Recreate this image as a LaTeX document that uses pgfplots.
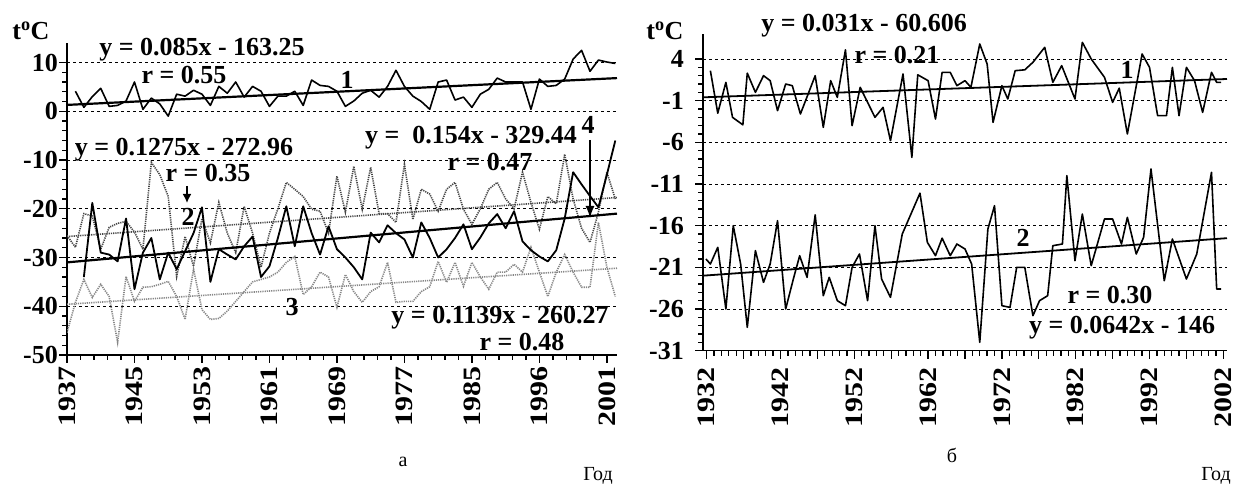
\documentclass[border=0pt]{standalone}
\usepackage{pgfplots}
\pgfplotsset{compat=1.18}
\usetikzlibrary{arrows.meta}
\usepackage{fontspec}
\setmainfont{Liberation Serif}
\newfontfamily\widefont{Liberation Serif Bold}[FakeStretch=1.2]

\definecolor{sertwo}{RGB}{70,70,70}
\definecolor{serthree}{RGB}{135,135,135}

\newcommand{\bigb}{\fontsize{26}{28}\selectfont\bfseries}

\pgfplotsset{
  panel/.style={
    scale only axis,
    axis x line=bottom, axis y line=left,
    axis line style={-, line width=1.6pt},
    tick align=outside,
    major tick length=8pt, minor tick length=5pt,
    every tick/.style={black, line width=1.3pt},
    ymajorgrids,
    major grid style={black, line width=0.7pt, dash pattern=on 3pt off 3pt},
    minor x tick num=4, minor y tick num=4,
    yticklabel style={font=\bigb, inner sep=1pt},
    xticklabel style={font=\widefont\fontsize{25}{27}\selectfont, rotate=90, anchor=east, inner sep=1pt},
  },
  blk/.style={black, line width=1.6pt, line join=round},
  trend/.style={black, line width=2.2pt},
}

\begin{document}
\begin{tikzpicture}
\useasboundingbox (0,0) rectangle (1237pt,486pt);

% ---------- panel a ----------
\begin{axis}[panel,
  at={(67pt,131pt)}, anchor=south west,
  width=550pt, height=312pt,
  xmin=0, xmax=65.2, ymin=-50, ymax=14,
  xtick={0,8,...,64},
  xticklabels={1937,1945,1953,1961,1969,1977,1985,1996,2001},
  ytick={-50,-40,...,10},
  yticklabels={-50,-40,-30,-20,-10,0,10},
  xticklabel style={xshift=-2pt},
]
% series 3
\addplot[serthree, line width=1.6pt, dash pattern=on 1.2pt off 1pt] coordinates {
(0,-45.4)(1,-39.2)(2,-34.5)(3,-38.2)(4,-35.5)(5,-38)(6,-47.4)(7,-33.9)(8,-39)(9,-36.1)
(10,-36)(11,-35.5)(12,-34.9)(13,-38)(14,-42.7)(15,-32.4)(16,-40.7)(17,-42.7)(18,-42.5)(19,-41)
(20,-39)(21,-37)(22,-35)(23,-34.5)(24,-34)(25,-33)(26,-31)(27,-29.8)(28,-37.6)(29,-36)
(30,-33)(31,-34)(32,-40.2)(33,-33.5)(34,-37)(35,-39.2)(36,-37)(37,-36)(38,-31)(39,-39.2)
(40,-39)(41,-39)(42,-37)(43,-36)(44,-30.8)(45,-35.1)(46,-31)(47,-35.9)(48,-31)(49,-34)
(50,-36.5)(51,-33)(52,-33)(53,-31.4)(54,-33)(55,-27.9)(56,-33)(57,-38)(58,-33)(59,-29.4)
(60,-33)(61,-36.1)(62,-36.1)(63,-22.8)(64,-32)(65,-38)};
\addplot[serthree, line width=1.6pt, dash pattern=on 1.2pt off 1pt] coordinates {(0,-39.6)(65.2,-32.2)};
% series 2
\addplot[sertwo, line width=1.6pt, dash pattern=on 1.2pt off 1pt] coordinates {
(0,-25.5)(1,-27.9)(2,-21)(3,-21.5)(4,-28.3)(5,-23.8)(6,-23)(7,-22.6)(8,-24.8)(9,-28.3)
(10,-10.5)(11,-13)(12,-17.5)(13,-33.9)(14,-25.7)(15,-31.8)(16,-22)(17,-27)(18,-18.7)(19,-25)
(20,-29)(21,-19.5)(22,-25)(23,-32)(24,-25)(25,-20)(26,-14.6)(27,-16)(28,-17.5)(29,-20.1)
(30,-20.5)(31,-25)(32,-13.3)(33,-20.7)(34,-11.3)(35,-20.1)(36,-11.5)(37,-21)(38,-21)(39,-22.8)
(40,-10.9)(41,-22.2)(42,-16)(43,-17)(44,-20.5)(45,-16)(46,-14.6)(47,-20.1)(48,-23.2)(49,-20)
(50,-16)(51,-14.6)(52,-18)(53,-20)(54,-12.5)(55,-18.7)(56,-24.2)(57,-17.5)(58,-19)(59,-8.8)
(60,-18)(61,-24)(62,-26.9)(63,-20.7)(64,-12.5)(65,-18)};
\addplot[sertwo, line width=1.6pt, dash pattern=on 1.2pt off 1pt] coordinates {(0,-25.7)(65.2,-17.7)};
% series 4
\addplot[blk, line width=1.8pt] coordinates {
(2,-34)(3,-18.8)(4,-29)(5,-29.4)(6,-30.8)(7,-22)(8,-36.5)(9,-29)
(10,-26)(11,-34.5)(12,-29)(13,-32.4)(14,-28.7)(15,-25)(16,-19.7)(17,-35)(18,-28.3)(19,-29.4)
(20,-30.4)(21,-27.7)(22,-25.7)(23,-34)(24,-31.8)(25,-26)(26,-19.5)(27,-27.7)(28,-19.5)(29,-25)
(30,-29.4)(31,-23.6)(32,-28.3)(33,-30)(34,-32)(35,-34.5)(36,-24.9)(37,-26.9)(38,-23.4)(39,-25)
(40,-26.3)(41,-30)(42,-22.8)(43,-26)(44,-30)(45,-28.3)(46,-26)(47,-23.2)(48,-28.3)(49,-25.9)
(50,-23)(51,-21.1)(52,-24)(53,-20.5)(54,-26.7)(55,-28.5)(56,-29.8)(57,-30.8)(58,-28.5)(59,-22)
(60,-12.5)(61,-15)(62,-17.4)(63,-19.7)(64,-13)(65,-6)};
\addplot[trend] coordinates {(0,-31)(65.2,-21)};
% series 1
\addplot[blk] coordinates {
(1,4.1)(2,0.8)(3,3.0)(4,4.7)(5,1.0)(6,1.2)(7,2.1)(8,6.0)(9,0.4)
(10,2.7)(11,1.5)(12,-1.0)(13,3.5)(14,3.1)(15,4.3)(16,3.5)(17,1.2)(18,5.1)(19,3.7)
(20,6.0)(21,2.9)(22,5.1)(23,4.1)(24,1.0)(25,3.1)(26,3.1)(27,4.1)(28,1.2)(29,6.4)
(30,5.3)(31,5.1)(32,4.1)(33,1.0)(34,2.1)(35,3.7)(36,4.3)(37,2.9)(38,5.1)(39,8.4)
(40,5.1)(41,3.1)(42,2.0)(43,0.4)(44,6.0)(45,6.4)(46,2.3)(47,2.9)(48,0.8)(49,3.5)
(50,4.5)(51,6.8)(52,6.0)(53,6.0)(54,6.0)(55,0.4)(56,6.6)(57,5.1)(58,5.3)(59,6.6)
(60,10.7)(61,12.5)(62,8.2)(63,10.5)(64,10.1)(65,9.8)};
\addplot[trend] coordinates {(0,1.3)(65.2,6.8)};
\end{axis}

% ---------- panel b ----------
\begin{axis}[panel,
  at={(703pt,135.3pt)}, anchor=south west,
  width=524pt, height=316.7pt,
  xmin=1931.5, xmax=2002.5, ymin=-31, ymax=7,
  xtick={1932,1937,...,2002},
  xticklabels={1932,{},1942,{},1952,{},1962,{},1972,{},1982,{},1992,{},2002},
  ytick={-31,-26,-21,-16,-11,-6,-1,4},
  yticklabels={-31,-26,-21,-16,-11,-6,-1,4},
  yticklabel style={xshift=-10pt},
  xticklabel style={xshift=-8pt},
]
\addplot[blk] coordinates {
(1932.5,2.6)(1933.5,-2.5)(1934.6,1.2)(1935.5,-3.0)(1936.9,-3.9)(1937.5,2.3)(1938.6,0.0)(1939.7,2.0)
(1940.6,1.4)(1941.6,-2.2)(1942.7,1.0)(1943.6,0.8)(1944.7,-2.6)(1946.7,2.0)(1947.8,-4.2)(1948.8,1.4)
(1949.7,-0.6)(1950.8,5.1)(1951.7,-4.0)(1952.8,0.6)(1954.8,-3.0)(1955.9,-1.8)(1956.9,-5.8)(1958.6,2.2)
(1959.8,-7.8)(1960.6,2.1)(1962,1.4)(1963,-3.2)(1963.9,2.4)(1965,2.4)(1965.9,0.8)(1967,1.4)
(1967.8,0.6)(1969,5.8)(1970,3.4)(1970.8,-3.6)(1972,0.8)(1972.8,-0.8)(1973.8,2.6)(1975.1,2.7)
(1976.2,3.6)(1977.8,5.4)(1978.9,1.2)(1980.1,3.2)(1981.9,-0.8)(1982.9,6.0)(1984.1,4.0)(1985.9,1.8)
(1987,-1.2)(1987.9,0.5)(1989,-5.0)(1991,4.6)(1992,3.0)(1993.1,-2.8)(1994.3,-2.8)(1995.1,3.0)
(1996,-2.8)(1997,3.0)(1998.1,1.4)(1999.2,-2.4)(2000.4,2.4)(2001.1,1.2)(2001.7,1.2)};
\addplot[trend, line width=1.8pt] coordinates {(1931.5,-0.6)(2002.5,1.6)};
\addplot[blk] coordinates {
(1931.9,-20)(1932.5,-20.6)(1933.5,-18.6)(1934.6,-26)(1935.6,-16)(1936.6,-20.6)(1937.5,-28.2)(1938.6,-19)
(1939.7,-22.8)(1940.6,-20.6)(1941.6,-15.4)(1942.7,-26)(1943.8,-22.2)(1944.6,-19.6)(1945.6,-22.2)(1946.7,-14.7)
(1947.8,-24.4)(1948.6,-22.2)(1949.7,-25)(1950.8,-25.6)(1951.7,-21)(1952.7,-19.4)(1953.8,-25)(1954.8,-16)
(1955.7,-22.4)(1956.9,-24.6)(1958.5,-17)(1960.9,-12.1)(1961.9,-18)(1963,-19.6)(1963.9,-17.5)(1965,-19.6)
(1965.9,-18.2)(1967,-18.8)(1967.9,-20.6)(1969,-30)(1970.1,-16.4)(1971,-13.6)(1972,-25.6)(1973.1,-25.8)
(1974,-21)(1975.1,-21)(1976.2,-26.8)(1977.1,-25)(1978.2,-24.4)(1978.9,-18.4)(1980.2,-18.2)(1980.8,-10)
(1981.9,-20.2)(1982.9,-14.6)(1984.1,-20.8)(1985.9,-15.2)(1987,-15.2)(1988.2,-18.2)(1989,-15)(1990.2,-19.4)
(1991.2,-17.4)(1992.2,-9.2)(1994,-22.6)(1995.1,-17.6)(1997,-22.4)(1998.4,-19.4)(2000.4,-9.6)(2001.1,-23.6)(2001.7,-23.6)};
\addplot[trend, line width=1.8pt] coordinates {(1931.5,-22)(2002.5,-17.5)};
\end{axis}

% ---------- annotations ----------
\begin{scope}[every node/.style={font=\bigb, inner sep=0pt}]
\node at (31pt,455pt) {t\textsuperscript{o}C};
\node at (665pt,455pt) {t\textsuperscript{o}C};
\node at (202pt,436pt) {y = 0.085x - 163.25};
\node at (184pt,411pt) {r = 0.55};
\node at (347pt,406pt) {1};
\node at (184pt,336pt) {y = 0.1275x - 272.96};
\node at (208pt,313pt) {r = 0.35};
\node at (188pt,269pt) {2};
\node at (471pt,348pt) {y = \ 0.154x - 329.44};
\node at (490pt,324pt) {r = 0.47};
\node at (588pt,361pt) {4};
\node at (292pt,179pt) {3};
\node at (500pt,168pt) {y = 0.1139x - 260.27};
\node at (522pt,144pt) {r = 0.48};
\node at (864pt,460pt) {y = 0.031x - 60.606};
\node at (897pt,431pt) {r = 0.21};
\node at (1127pt,416pt) {1};
\node at (1023pt,248pt) {2};
\node at (1110pt,191pt) {r = 0.30};
\node at (1122pt,158pt) {y = 0.0642x - 146};
\end{scope}
\draw[line width=1.6pt, -{Latex[length=9pt,width=9pt]}] (187pt,300pt) -- (187pt,283pt);
\draw[line width=1.4pt, -{Latex[length=12pt,width=9pt]}] (590pt,346pt) -- (590pt,268pt);
\begin{scope}[every node/.style={font=\fontsize{20}{22}\selectfont, inner sep=0pt}]
\node at (403pt,24pt) {а};
\node at (598pt,10pt) {Год};
\node at (952pt,31pt) {б};
\node at (1216pt,10pt) {Год};
\end{scope}
\end{tikzpicture}
\end{document}
